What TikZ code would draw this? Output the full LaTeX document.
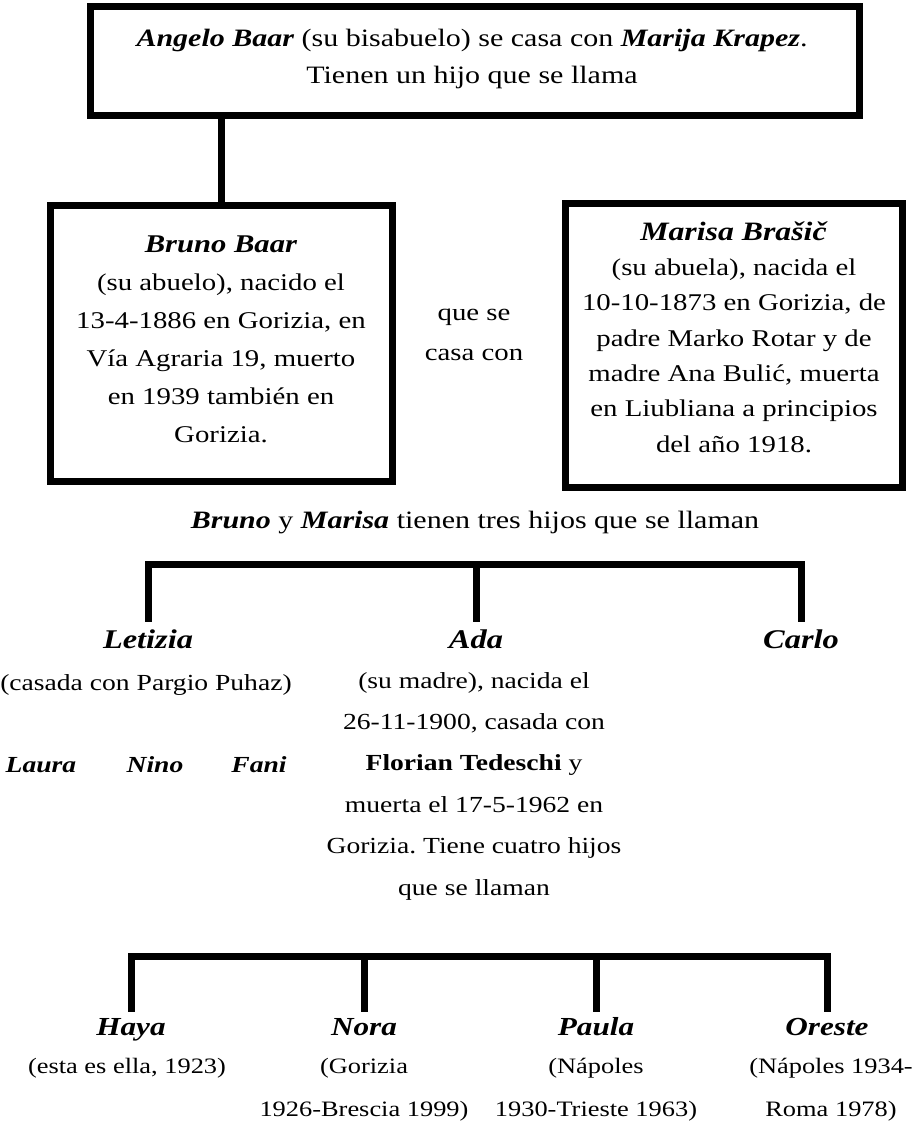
\documentclass[tikz,border=0pt]{standalone}
\usepackage{fontspec}
\setmainfont{Liberation Serif}[FakeStretch=1.2]
\frenchspacing
\newcommand\fTop{\fontsize{25}{37}\selectfont}
\newcommand\fBox{\fontsize{24}{38}\selectfont}
\newcommand\fMar{\fontsize{24}{35.3}\selectfont}
\newcommand\fCasa{\fontsize{24}{40}\selectfont}
\newcommand\fTxt{\fontsize{23}{41.4}\selectfont}
\newcommand\fHijos{\fontsize{25}{30}\selectfont}
\newcommand\fName{\fontsize{27}{30}\selectfont}
\newcommand\fNameB{\fontsize{26}{30}\selectfont}
\newcommand\fKid{\fontsize{22}{43}\selectfont}
\newcommand\nm[1]{\textbf{\textit{#1}}}
\begin{document}
\begin{tikzpicture}[x=1pt,y=-1pt,
  frame/.style={draw, line width=7pt, inner sep=0pt},
  conn/.style={line width=7pt, line join=miter},
  txt/.style={align=center, inner sep=0pt, anchor=base},
  kid/.style={inner sep=0pt, anchor=base, font=\fName\bfseries\itshape, text height=26pt, text depth=6pt},
  kidb/.style={kid, font=\fNameB\bfseries\itshape, text height=23pt}]
\fill[white] (0,0) rectangle (913,1128);
\useasboundingbox (0,0) rectangle (913,1128);

% top (multi-line texts are placed at the baseline of their last line)
\node[frame, minimum width=769pt, minimum height=109pt] (top) at (474.5,60.5) {};
\node[txt, font=\fTop] (toptext) at (472,83) {\nm{Angelo Baar} (su bisabuelo) se casa con \nm{Marija Krapez}.\\Tienen un hijo que se llama};

% Bruno
\node[frame, minimum width=342pt, minimum height=276pt] (bruno) at (221,343) {};
\node[txt, font=\fBox] (brunotext) at (221,442) {{\fontsize{25.5}{38}\selectfont\nm{Bruno Baar}}\\(su abuelo), nacido el\\13-4-1886 en Gorizia, en\\Vía Agraria 19, muerto\\en 1939 también en\\Gorizia.};

% Marisa
\node[frame, minimum width=337pt, minimum height=284pt] (marisa) at (733.5,345) {};
\node[txt, font=\fMar] (marisatext) at (734,452) {{\fontsize{26.5}{35.3}\selectfont\nm{Marisa Brašič}}\\(su abuela), nacida el\\10-10-1873 en Gorizia, de\\padre Marko Rotar y de\\madre Ana Bulić, muerta\\en Liubliana a principios\\del año 1918.};

\node[txt, font=\fCasa] (casa) at (474,360) {que se\\casa con};

\draw[conn] (top.south -| bruno.north) -- (bruno.north);

% children of Bruno and Marisa
\node[txt, font=\fHijos] (hijos) at (475,528) {\nm{Bruno} y \nm{Marisa} tienen tres hijos que se llaman};

\coordinate (bar1) at (475,564);
\node[kid] (letizia) at (148,648) {Letizia};
\node[kid] (ada) at (476,648) {Ada};
\node[kid] (carlo) at (801,648) {Carlo};
\draw[conn] (letizia.north) -- (letizia.north |- bar1) -- (carlo.north |- bar1) -- (carlo.north);
\draw[conn] (ada.north |- bar1) -- (ada.north);

\node[txt, font=\fTxt] (letiziatext) at (146,690) {(casada con Pargio Puhaz)};
\node[txt, font=\fTxt\bfseries\itshape] (laura) at (41,772) {Laura};
\node[txt, font=\fTxt\bfseries\itshape] (nino) at (155,772) {Nino};
\node[txt, font=\fTxt\bfseries\itshape] (fani) at (259,772) {Fani};

\node[txt, font=\fTxt] (adatext) at (474,895) {(su madre), nacida el\\26-11-1900, casada con\\\textbf{Florian Tedeschi} y\\muerta el 17-5-1962 en\\Gorizia. Tiene cuatro hijos\\que se llaman};

% grandchildren
\coordinate (bar2) at (479,956);
\node[kidb] (haya) at (131,1035) {Haya};
\node[kidb] (nora) at (364,1035) {Nora};
\node[kidb] (paula) at (596,1035) {Paula};
\node[kidb] (oreste) at (827,1035) {Oreste};
\draw[conn] (haya.north) -- (haya.north |- bar2) -- (oreste.north |- bar2) -- (oreste.north);
\draw[conn] (nora.north |- bar2) -- (nora.north);
\draw[conn] (paula.north |- bar2) -- (paula.north);

\node[txt, font=\fKid] (hayatext) at (127,1073) {(esta es ella, 1923)};
\node[txt, font=\fKid] (noratext) at (364,1116) {(Gorizia\\1926-Brescia 1999)};
\node[txt, font=\fKid] (paulatext) at (596,1116) {(Nápoles\\1930-Trieste 1963)};
\node[txt, font=\fKid] (orestetext) at (831,1116) {(Nápoles 1934-\\Roma 1978)};
\end{tikzpicture}
\end{document}
